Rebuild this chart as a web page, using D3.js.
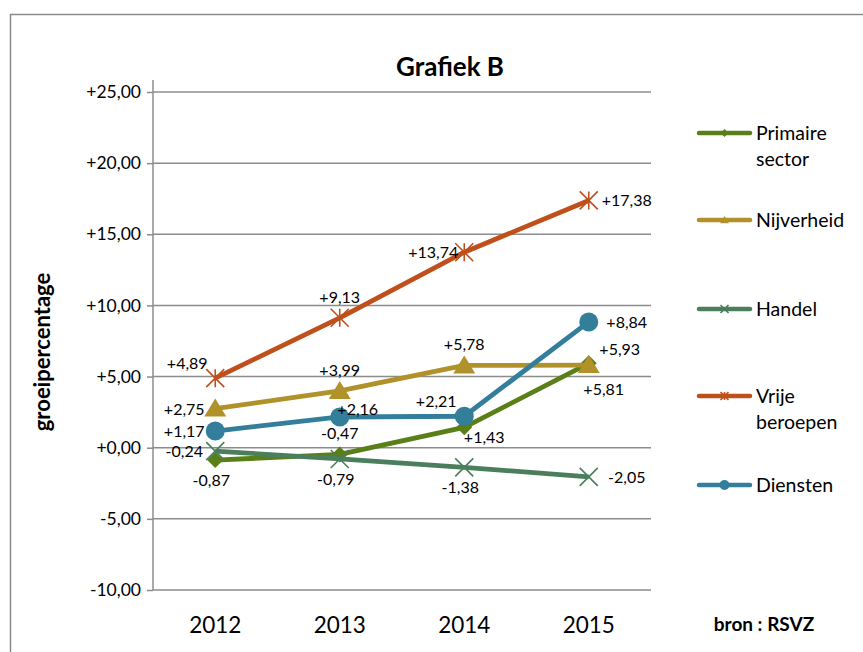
<!DOCTYPE html>
<html>
<head>
<meta charset="utf-8">
<script src="https://cdn.jsdelivr.net/npm/d3@7"></script>
<style>
  html, body { margin:0; padding:0; background:#fff; }
  text { font-family: Lato, "Open Sans", sans-serif; fill:#000; }
</style>
</head>
<body>
<div id="chart"></div>
<script>
var years = ['2012', '2013', '2014', '2015'];
var seriesNames = ['Primaire sector', 'Nijverheid', 'Handel', 'Vrije beroepen', 'Diensten'];
var primaire = [-0.87, -0.47, 1.43, 5.93];
var nijverheid = [2.75, 3.99, 5.78, 5.81];
var handel = [-0.24, -0.79, -1.38, -2.05];
var vrije = [4.89, 9.13, 13.74, 17.38];
var diensten = [1.17, 2.16, 2.21, 8.84];
var yTicks = [-10, -5, 0, 5, 10, 15, 20, 25];

// where the value label sits relative to its point
var labelPos = [
  ['b', 't', 'br', 'tr2'],
  ['l', 't', 't', 'b2'],
  ['l', 'b', 'b', 'r'],
  ['tl', 't', 'l', 'r'],
  ['l', 'tr', 'tl', 'r']
];

var colors = ['#5a7f18', '#b1922a', '#4a7e5c', '#c0501b', '#327e9b'];
var markers = ['diamond', 'triangle', 'x', 'star', 'circle'];
var values = [primaire, nijverheid, handel, vrije, diensten];

var W = 863, H = 652;
var plot = { left:153, right:651, top:92, bottom:590 };

var svg = d3.select('#chart').append('svg')
  .attr('width', W).attr('height', H);

// outer frame
svg.append('rect')
  .attr('x', 10.5).attr('y', 14.5)
  .attr('width', 870).attr('height', 660)
  .attr('fill', 'none').attr('stroke', '#8a8a8a').attr('stroke-width', 1.5);

var x = d3.scaleBand().domain(years).range([plot.left, plot.right]);
var y = d3.scaleLinear().domain([-10, 25]).range([plot.bottom, plot.top]);

function fmt(v){
  var s = Math.abs(v).toFixed(2).replace('.', ',');
  return (v < 0 ? '-' : '+') + s;
}

// grid
svg.append('g').selectAll('line').data(yTicks).enter().append('line')
  .attr('x1', plot.left).attr('x2', plot.right)
  .attr('y1', function(d){ return y(d); }).attr('y2', function(d){ return y(d); })
  .attr('stroke', '#8c8c8c').attr('stroke-width', 1.5);

// y axis
var yAxis = svg.append('g')
  .attr('transform', 'translate(' + plot.left + ',0)')
  .call(d3.axisLeft(y).tickValues(yTicks).tickSize(6).tickPadding(6).tickFormat(fmt));
yAxis.select('.domain').attr('stroke', '#8c8c8c').attr('stroke-width', 1.5)
  .attr('d', 'M0,' + (plot.top - 12) + 'V' + plot.bottom);
yAxis.selectAll('.tick line').attr('stroke', '#8c8c8c').attr('stroke-width', 1.5);
yAxis.selectAll('.tick text').attr('font-size', '17.5px').attr('fill', '#000')
  .style('font-family', 'Lato, sans-serif');

// x labels
svg.append('g').selectAll('text').data(years).enter().append('text')
  .attr('x', function(d){ return x(d) + x.bandwidth() / 2; })
  .attr('y', 633)
  .attr('text-anchor', 'middle')
  .attr('font-size', '22.5px')
  .text(function(d){ return d; });

// title
svg.append('text')
  .attr('x', 450).attr('y', 76)
  .attr('text-anchor', 'middle')
  .attr('font-size', '26px').attr('font-weight', 'bold')
  .text('Grafiek B');

svg.append('text')
  .attr('transform', 'translate(50,352) rotate(-90)')
  .attr('text-anchor', 'middle')
  .attr('font-size', '22px').attr('font-weight', 'bold')
  .text('groeipercentage');

svg.append('text')
  .attr('x', 764).attr('y', 631)
  .attr('text-anchor', 'middle')
  .attr('font-size', '19px').attr('font-weight', 'bold')
  .text('bron : RSVZ');

function drawMarker(g, type, cx, cy, s, color){
  if(type === 'diamond'){
    g.append('path').attr('d', 'M' + cx + ',' + (cy - s) + 'L' + (cx + s) + ',' + cy + 'L' + cx + ',' + (cy + s) + 'L' + (cx - s) + ',' + cy + 'Z')
      .attr('fill', color);
  } else if(type === 'triangle'){
    g.append('path').attr('d', 'M' + cx + ',' + (cy - s) + 'L' + (cx + s * 1.1) + ',' + (cy + s * 0.8) + 'L' + (cx - s * 1.1) + ',' + (cy + s * 0.8) + 'Z')
      .attr('fill', color);
  } else if(type === 'circle'){
    g.append('circle').attr('cx', cx).attr('cy', cy).attr('r', s).attr('fill', color);
  } else {
    var p = 'M' + (cx - s) + ',' + (cy - s) + 'L' + (cx + s) + ',' + (cy + s) +
            'M' + (cx - s) + ',' + (cy + s) + 'L' + (cx + s) + ',' + (cy - s);
    if(type === 'star') p += 'M' + cx + ',' + (cy - s) + 'L' + cx + ',' + (cy + s);
    g.append('path').attr('d', p).attr('fill', 'none')
      .attr('stroke', color).attr('stroke-width', 1.6);
  }
}

var markerSize = { diamond:8, triangle:10, x:9, star:9, circle:9.5 };

var line = d3.line()
  .x(function(d, i){ return x(years[i]) + x.bandwidth() / 2; })
  .y(function(d){ return y(d); });

var seriesG = svg.append('g');
values.forEach(function(vals, s){
  var g = seriesG.append('g');
  g.append('path').datum(vals)
    .attr('d', line)
    .attr('fill', 'none')
    .attr('stroke', colors[s])
    .attr('stroke-width', 4.8)
    .attr('stroke-linejoin', 'round');
  vals.forEach(function(v, i){
    drawMarker(g, markers[s], x(years[i]) + x.bandwidth() / 2, y(v), markerSize[markers[s]], colors[s]);
  });
});

// value labels
var offs = {
  l:[-31, 0], r:[38, 0], t:[0, -21], b:[-4, 20],
  tl:[-28, -15], tr:[18, -8], br:[20, 10],
  tr2:[31, -14], b2:[15, 24]
};
var labelsG = svg.append('g');
values.forEach(function(vals, s){
  vals.forEach(function(v, i){
    var o = offs[labelPos[s][i]];
    labelsG.append('text')
      .attr('x', x(years[i]) + x.bandwidth() / 2 + o[0])
      .attr('y', y(v) + o[1] + 6)
      .attr('text-anchor', 'middle')
      .attr('font-size', '16px')
      .text(fmt(v));
  });
});

// legend
var legendY = [133, 220, 309, 396, 485];
var legend = svg.append('g');
seriesNames.forEach(function(name, s){
  var gy = legendY[s];
  legend.append('line')
    .attr('x1', 699).attr('x2', 750).attr('y1', gy).attr('y2', gy)
    .attr('stroke', colors[s]).attr('stroke-width', 4.5).attr('stroke-linecap', 'round');
  drawMarker(legend, markers[s], 724.5, gy, markers[s] === 'circle' ? 5 : 4, colors[s]);
  var words = name.split(' ');
  words.forEach(function(w, k){
    legend.append('text')
      .attr('x', 756).attr('y', gy + 7 + k * 26)
      .attr('font-size', '19.5px')
      .text(w);
  });
});
</script>
</body>
</html>
